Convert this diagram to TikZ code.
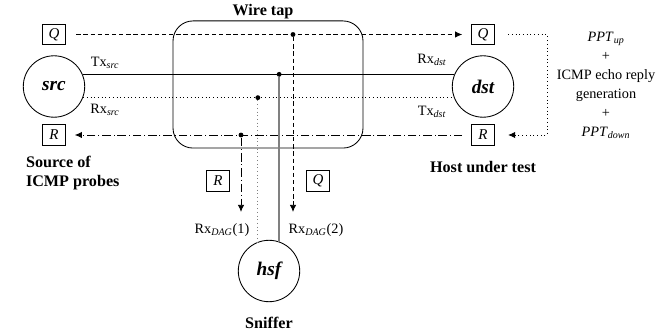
\documentclass[tikz,border=0pt]{standalone}
\usepackage{fontspec}
\setmainfont{Liberation Serif}
\usetikzlibrary{arrows.meta,positioning,calc}
\definecolor{tapgray}{HTML}{808080}

\begin{document}
\begin{tikzpicture}[x=0.7pt,y=-0.7pt,font=\fontsize{10}{12}\selectfont,
  host/.style={draw, circle, line width=0.6pt, minimum size=43pt, inner sep=0pt,
               font=\fontsize{13.5}{15}\selectfont\bfseries\itshape},
  pkt/.style={draw, line width=0.6pt, minimum width=16.5pt, minimum height=14.5pt,
              inner sep=0pt, font=\fontsize{10.5}{12}\selectfont\itshape},
  role/.style={align=left, font=\fontsize{11.3}{13}\selectfont\bfseries},
  tapdot/.style={circle, fill=black, inner sep=0pt, minimum size=3.4pt},
  wire/.style={line width=0.6pt},
  qline/.style={wire, dash pattern=on 3pt off 2pt},
  rline/.style={wire, dash pattern=on 6pt off 2pt on 0.7pt off 2pt},
  a/.style={-{Latex[length=5pt,width=4.5pt]}}]
\useasboundingbox (0,0) rectangle (657,335);
\node[host] (src) at (54,86.5) {src};
\node[host] (dst) at (483,86.5) {dst};
\node[host] (hsf) at (269,271) {hsf};
\node[pkt] (Qs) at (54,34.5) {Q};
\node[pkt] (Rs) at (54,135) {R};
\node[pkt] (Qd) at (483,34.5) {Q};
\node[pkt] (Rd) at (483,135) {R};
\node[pkt] (Rh) at (218,181) {R};
\node[pkt] (Qh) at (318,181) {Q};
\node[draw, wire, rounded corners=14pt, minimum width=133pt, minimum height=89pt]
  (tap) at (268,84.5) {};
\node[role] (taplbl) at (263,12) {Wire tap};
\node[role, anchor=west] (srclbl) at (21,173) {Source of\\ICMP probes};
\node[role] (dstlbl) at (483,167) {Host under test};
\node[role] (hsflbl) at (269,323) {Sniffer};
\node[align=center, font=\fontsize{10}{13.3}\selectfont] (ppt) at (606,85)
  {\textit{PPT}\textsubscript{\textit{up}}\\+\\ICMP echo reply\\generation\\+\\
   \textit{PPT}\textsubscript{\textit{down}}};
\node (txs) at (105,63) {Tx\textsubscript{\textit{src}}};
\node (rxs) at (105,110) {Rx\textsubscript{\textit{src}}};
\node (rxd) at (432,60) {Rx\textsubscript{\textit{dst}}};
\node (txd) at (432,112) {Tx\textsubscript{\textit{dst}}};
\node (rxh1) at (222,230) {Rx\textsubscript{\textit{DAG}}(1)};
\node (rxh2) at (316,230) {Rx\textsubscript{\textit{DAG}}(2)};
% links between the hosts
\draw[wire] (src.23) -- (dst.157);
\draw[wire, dotted] (src.-21) -- (dst.201);
\draw[qline, a, shorten <=7pt, shorten >=6pt] (Qs) -- (Qd);
\draw[rline, a, shorten <=6pt, shorten >=6pt] (Rd) -- (Rs);
\coordinate (loop) at (547,34.5);
\draw[wire, dotted, a, shorten <=9pt, shorten >=9pt] (Qd) -- (loop) |- (Rd);
% taps towards the sniffer
\node[tapdot] (dq) at (293,34.5) {};
\node[tapdot] (dtx) at (hsf.71 |- src.23) {};
\node[tapdot] (drx) at (hsf.111 |- src.-21) {};
\node[tapdot] (dr) at (241,135) {};
\coordinate (qend) at (293,212);
\coordinate (rend) at (241,212);
\draw[tapgray, line width=1.1pt] (dtx) -- (hsf.71);
\draw[tapgray, wire, dotted] (drx) -- (hsf.111);
\draw[qline, a] (dq) -- (qend);
\draw[rline, a] (dr) -- (rend);
\end{tikzpicture}
\end{document}
